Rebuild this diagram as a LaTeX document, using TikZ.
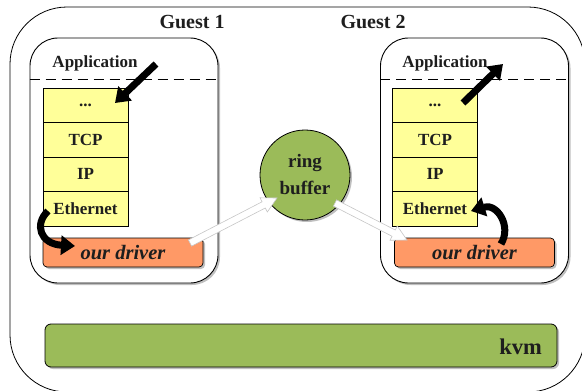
\documentclass[tikz,border=0pt]{standalone}
\usepackage{fontspec}
\setmainfont{Liberation Serif}
\usetikzlibrary{arrows.meta,shadows,calc}
\definecolor{kgreen}{HTML}{9BBB59}
\definecolor{kyellow}{HTML}{FFFF99}
\definecolor{korange}{HTML}{FF9966}
\definecolor{ktext}{HTML}{1E1E1E}
\tikzset{
  shad/.style={drop shadow={shadow xshift=2pt, shadow yshift=-2pt, opacity=0.5, fill=gray}},
  guestbox/.style={draw=black, line width=0.9pt, fill=white, rounded corners=28pt,
    minimum width=188pt, minimum height=245pt, inner sep=0pt, shad},
  layer/.style={draw=black, line width=0.7pt, fill=kyellow, minimum width=85pt,
    minimum height=34.5pt, inner sep=0pt, font=\fontsize{17}{17}\selectfont\bfseries, text=ktext},
  driverbox/.style={draw=black, line width=0.7pt, fill=korange, rounded corners=4pt,
    minimum width=160pt, minimum height=29pt, inner sep=0pt, shad,
    font=\fontsize{20.5}{20.5}\selectfont\bfseries\itshape, text=ktext},
  bigarrow/.style={line width=7pt, black, -{Triangle[length=14pt,width=19pt]}},
  hollow/.style={draw=gray!45, line width=0.6pt, fill=white},
  lbl/.style={font=\fontsize{17}{17}\selectfont\bfseries, text=ktext, inner sep=0pt},
  guestlbl/.style={font=\fontsize{20}{20}\selectfont\bfseries, text=ktext, inner sep=0pt},
  sep/.style={dashed, dash pattern=on 10pt off 6pt, line width=0.8pt},
}
\begin{document}
\begin{tikzpicture}[x=1pt,y=-1pt]
\useasboundingbox (0,0) rectangle (582,391);
\clip (0,0) rectangle (582,391);
% outer frame
\draw[line width=0.8pt, rounded corners=57pt] (10,7) rectangle (585,392);
\node[guestlbl] (g1lbl) at (192,22) {Guest 1};
\node[guestlbl] (g2lbl) at (373,22) {Guest 2};
% guest boxes
\node[guestbox] (g1) at (124,160.5) {};
\node[guestbox] (g2) at (474.5,160.5) {};
\draw[sep] (g1.west |- 0,79) -- (g1.east |- 0,79);
\draw[sep] (g2.west |- 0,79) -- (g2.east |- 0,79);
\node[lbl] (app1) at (95,63) {Application};
\node[lbl] (app2) at (445,63) {Application};
% stacks
\node[layer] (d1) at (85.5,105.25) {...};
\node[layer] (t1) at (85.5,139.75) {TCP};
\node[layer] (i1) at (85.5,174.25) {IP};
\node[layer] (e1) at (85.5,208.75) {Ethernet};
\node[layer] (d2) at (435,105.25) {...};
\node[layer] (t2) at (435,139.75) {TCP};
\node[layer] (i2) at (435,174.25) {IP};
\node[layer] (e2) at (435,208.75) {Ethernet};
% drivers
\node[driverbox] (drv1) at (123,252.5) {our driver};
\node[driverbox] (drv2) at (474.5,252.5) {our driver};
% ring buffer
\node[circle, draw=black, line width=0.8pt, fill=kgreen, minimum size=90pt, inner sep=0pt, shad,
  align=center, font=\fontsize{19}{27}\selectfont\bfseries, text=ktext] (ring) at (305,175) {ring\\buffer};
% kvm
\node[draw=black, line width=0.8pt, fill=kgreen, rounded corners=6pt, minimum width=512pt,
  minimum height=43pt, inner sep=0pt, shad] (kvm) at (301,345.5) {};
\node[font=\fontsize{22.5}{22.5}\selectfont\bfseries, text=ktext, anchor=east, inner sep=0pt] (kvmlbl) at (542,347) {kvm};
% black arrows
\coordinate (a1s) at (156,64);
\coordinate (a1e) at (115,103);
\draw[bigarrow] (a1s) -- (a1e);
\coordinate (a2s) at (463,103);
\coordinate (a2e) at (503,64);
\draw[bigarrow] (a2s) -- (a2e);
\coordinate (c1s) at (48,211);
\coordinate (c1e) at (75,246);
\draw[bigarrow] (c1s) .. controls (34,224) and (40,244) .. (c1e);
\coordinate (c2s) at (501,244);
\coordinate (c2e) at (471,211);
\draw[bigarrow] (c2s) .. controls (512,226) and (497,203) .. (c2e);
% hollow arrows
\coordinate (h1s) at (190,243);
\coordinate (h1e) at (277,198);
\coordinate (h1p) at ($(h1e)!15pt!(h1s)$);
\filldraw[hollow] ($(h1s)!3.5pt!90:(h1e)$) -- ($(h1p)!3.5pt!90:(h1e)$) -- ($(h1p)!8pt!90:(h1e)$)
  -- (h1e) -- ($(h1p)!8pt!-90:(h1e)$) -- ($(h1p)!3.5pt!-90:(h1e)$) -- ($(h1s)!3.5pt!-90:(h1e)$) -- cycle;
\coordinate (h2s) at (335,203);
\coordinate (h2e) at (407,240);
\coordinate (h2p) at ($(h2e)!15pt!(h2s)$);
\filldraw[hollow] ($(h2s)!3.5pt!90:(h2e)$) -- ($(h2p)!3.5pt!90:(h2e)$) -- ($(h2p)!8pt!90:(h2e)$)
  -- (h2e) -- ($(h2p)!8pt!-90:(h2e)$) -- ($(h2p)!3.5pt!-90:(h2e)$) -- ($(h2s)!3.5pt!-90:(h2e)$) -- cycle;
\end{tikzpicture}
\end{document}
